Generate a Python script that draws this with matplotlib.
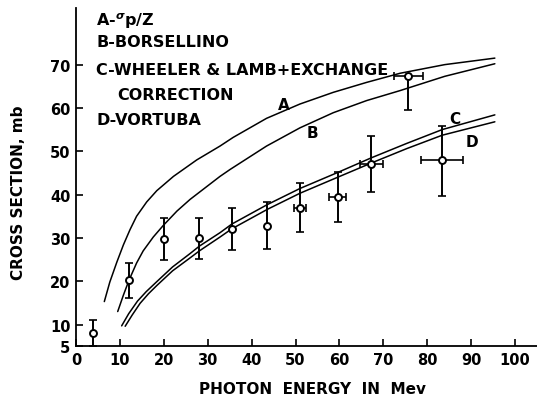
import matplotlib
matplotlib.use('Agg')
import matplotlib.pyplot as plt
import numpy as np

# measured points (photon energy MeV, cross section mb)
energy = [3.8, 12.1, 20.1, 28.1, 35.5, 43.6, 51.0, 59.6, 67.3, 75.7, 83.4]
sigma = [8.1, 20.3, 29.7, 29.9, 32.0, 32.8, 36.8, 39.5, 47.1, 67.3, 48.0]
err_up = [3.0, 3.9, 5.0, 4.7, 4.9, 5.6, 5.9, 5.6, 6.4, 0.0, 7.8]
err_dn = [3.1, 4.1, 4.8, 4.8, 4.7, 5.4, 5.5, 5.8, 6.4, 7.8, 8.3]
err_x = [0, 0, 0, 0, 0, 0, 1.3, 2.0, 2.7, 3.3, 4.75]

# theory curves
A_x = [6.45, 7.7, 9.3, 10.8, 12.3, 13.8, 16.1, 18.4, 22.2, 27.5, 32.8, 35.8, 43.4,
       51.0, 58.6, 66.2, 73.8, 84.0, 95.4]
A_y = [15.3, 19.8, 24.4, 28.4, 31.9, 35.0, 38.3, 40.9, 44.2, 48.0, 51.2, 53.2, 57.6,
       60.9, 63.6, 65.9, 68.0, 70.0, 71.5]
B_x = [9.5, 10.8, 12.1, 13.8, 15.3, 17.6, 19.9, 23.0, 26.0, 32.8, 35.1, 43.4, 51.0,
       58.6, 66.2, 73.8, 84.0, 95.4]
B_y = [13.0, 16.8, 20.3, 24.2, 27.0, 30.2, 32.9, 36.2, 38.9, 44.2, 45.8, 51.2, 55.4,
       58.9, 61.7, 64.0, 67.3, 70.2]
C_x = [10.4, 12.0, 14.0, 16.0, 18.4, 22.0, 26.0, 28.1, 32.8, 35.5, 43.6, 51.0, 59.6,
       67.3, 75.3, 83.4, 95.4]
C_y = [9.7, 12.5, 15.4, 17.6, 19.9, 23.3, 26.4, 28.1, 31.2, 33.2, 37.7, 41.4, 45.1,
       48.5, 51.8, 55.0, 58.4]
D_x = [11.2, 12.8, 14.6, 16.5, 18.4, 22.0, 26.0, 28.1, 32.8, 35.5, 43.6, 51.0, 59.6,
       67.3, 75.3, 83.4, 95.4]
D_y = [9.6, 12.2, 14.9, 17.1, 19.0, 22.4, 25.4, 27.0, 30.2, 32.1, 36.6, 40.3, 44.0,
       47.3, 50.6, 53.7, 56.8]

curve_labels = ['A', 'B', 'C', 'D']
label_pos = [(47.4, 60.9), (53.9, 54.4), (86.3, 57.5), (90.1, 52.2)]

legend_lines = [r'A-$^{\sigma}$p/Z', 'B-BORSELLINO', 'C-WHEELER & LAMB+EXCHANGE',
                'CORRECTION', 'D-VORTUBA']

xticks = [0, 10, 20, 30, 40, 50, 60, 70, 80, 90, 100]
yticks = [5, 10, 20, 30, 40, 50, 60, 70]

plt.rcParams['font.family'] = 'DejaVu Sans'
plt.rcParams['font.weight'] = 'bold'

fig = plt.figure(figsize=(5.37, 4.02), dpi=100)
ax = fig.add_axes([76/537, 1-347.2/402, (537-76)/537, (347.2-9.3)/402])

lw = 1.1
for cx, cy in [(A_x, A_y), (B_x, B_y), (C_x, C_y), (D_x, D_y)]:
    ax.plot(cx, cy, color='black', lw=lw, solid_capstyle='round', solid_joinstyle='round')

ax.errorbar(energy, sigma, yerr=[err_dn, err_up], fmt='none', ecolor='black',
            elinewidth=1.4, capsize=3, capthick=1.2, zorder=3)
ex = np.array(err_x)
m = ex > 0
ax.errorbar(np.array(energy)[m], np.array(sigma)[m], xerr=ex[m], fmt='none',
            ecolor='black', elinewidth=1.2, capsize=3, capthick=1.2, zorder=3)
ax.plot(energy, sigma, 'o', mfc='white', mec='black', ms=5, mew=1.4, zorder=4)

for lab, (lx, ly) in zip(curve_labels, label_pos):
    ax.text(lx, ly, lab, fontsize=11, fontweight='bold', ha='center', va='center')

ax.set_xlim(0, 105)
ax.set_ylim(5, 83)
ax.set_xticks(xticks)
ax.set_yticks(yticks)
ax.tick_params(direction='in', length=5, width=1.2, labelsize=10.5, pad=4)
for s in ['top', 'right']:
    ax.spines[s].set_visible(False)
for s in ['left', 'bottom']:
    ax.spines[s].set_linewidth(1.3)

# legend text block
leg_x = [96, 96, 96, 117, 96]
leg_y = [26, 47, 75, 100, 125]
for t, px, py in zip(legend_lines, leg_x, leg_y):
    fig.text(px/537, 1-py/402, t, fontsize=11.5, fontweight='bold', ha='left', va='baseline')

fig.text(19/537, 1-193/402, 'CROSS SECTION, mb', rotation=90, fontsize=11,
         fontweight='bold', ha='center', va='center')
fig.text(312/537, 1-390/402, 'PHOTON  ENERGY  IN  Mev', fontsize=11,
         fontweight='bold', ha='center', va='center')

fig.savefig('out.png', dpi=100)
